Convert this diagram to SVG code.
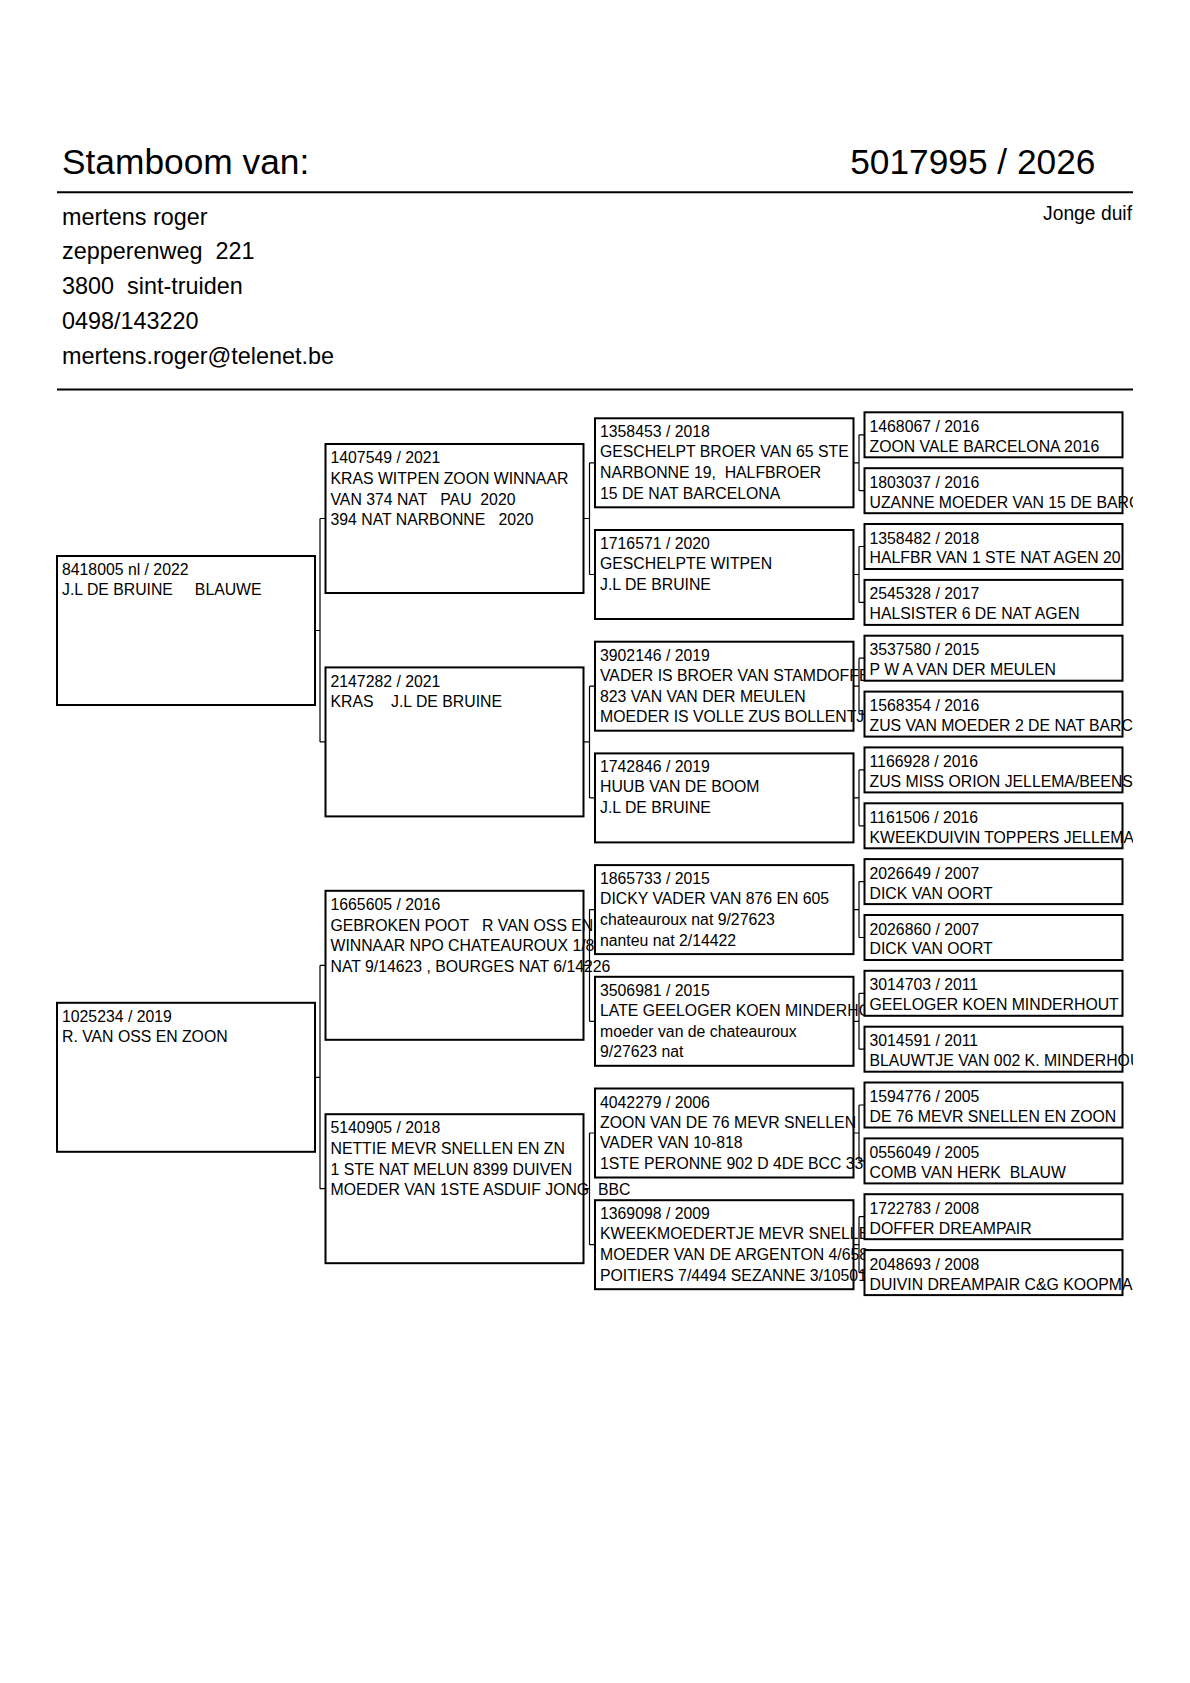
<svg xmlns="http://www.w3.org/2000/svg" width="1190" height="1683" viewBox="0 0 1190 1683" xml:space="preserve">
<style>
.bg{fill:#fff}
.box{fill:#fff;stroke:#000;stroke-width:2}
.c{fill:none;stroke:#000;stroke-width:1.2}
.rule{stroke:#000;stroke-width:2}
text{font-family:"Liberation Sans",Arial,Helvetica,sans-serif;fill:#000;white-space:pre}
.t{font-size:15.8px}
.h1{font-size:35.3px}
.h2{font-size:23.4px}
.h3{font-size:19.3px}
</style>
<defs>
<clipPath id="clipR"><rect x="0" y="0" width="1133" height="1683"/></clipPath>
</defs>
<rect class="bg" x="0" y="0" width="1190" height="1683"/>

<g id="header">
<text class="h1" x="62" y="173.5">Stamboom van:</text>
<text class="h1" x="1095.5" y="174" text-anchor="end">5017995 / 2026</text>
<line class="rule" x1="57" y1="192.3" x2="1133" y2="192.3"/>
<text class="h3" x="1132" y="220" text-anchor="end">Jonge duif</text>
<text class="h2" x="62" y="224.5">mertens roger</text>
<text class="h2" x="62" y="259.4">zepperenweg  221</text>
<text class="h2" x="62" y="294.3">3800  sint-truiden</text>
<text class="h2" x="62" y="329.2">0498/143220</text>
<text class="h2" x="62" y="364.1">mertens.roger@telenet.be</text>
<line class="rule" x1="57" y1="389.5" x2="1133" y2="389.5"/>
</g>

<g id="connectors">
<path class="c" d="M315 630.5H320M320 518.5V741.9M320 518.5H325.5M320 741.9H325.5"/>
<path class="c" d="M315 1077.3H320M320 965.3V1188.7M320 965.3H325.5M320 1188.7H325.5"/>
<path class="c" d="M583.5 518.5H589.5M589.5 462.8V574.5M589.5 462.8H595M589.5 574.5H595"/>
<path class="c" d="M583.5 741.9H589.5M589.5 686.2V797.9M589.5 686.2H595M589.5 797.9H595"/>
<path class="c" d="M583.5 965.3H589.5M589.5 909.6V1021.3M589.5 909.6H595M589.5 1021.3H595"/>
<path class="c" d="M583.5 1188.7H589.5M589.5 1133V1244.7M589.5 1133H595M589.5 1244.7H595"/>
<path class="c" d="M853.5 462.8H859M859 434.8V490.7M859 434.8H864.5M859 490.7H864.5"/>
<path class="c" d="M853.5 574.5H859M859 546.5V602.4M859 546.5H864.5M859 602.4H864.5"/>
<path class="c" d="M853.5 686.2H859M859 658.2V714.1M859 658.2H864.5M859 714.1H864.5"/>
<path class="c" d="M853.5 797.9H859M859 769.9V825.8M859 769.9H864.5M859 825.8H864.5"/>
<path class="c" d="M853.5 909.6H859M859 881.6V937.5M859 881.6H864.5M859 937.5H864.5"/>
<path class="c" d="M853.5 1021.3H859M859 993.3V1049.2M859 993.3H864.5M859 1049.2H864.5"/>
<path class="c" d="M853.5 1133H859M859 1105V1160.9M859 1105H864.5M859 1160.9H864.5"/>
<path class="c" d="M853.5 1244.7H859M859 1216.7V1272.6M859 1216.7H864.5M859 1272.6H864.5"/>
</g>

<!-- generation 1 -->
<g id="n1a">
<rect class="box" x="57" y="556" width="258" height="149"/>
<text class="t" x="62" y="575">8418005 nl / 2022</text>
<text class="t" x="62" y="595">J.L DE BRUINE     BLAUWE</text>
</g>
<g id="n1b">
<rect class="box" x="57" y="1002.8" width="258" height="149"/>
<text class="t" x="62" y="1021.8">1025234 / 2019</text>
<text class="t" x="62" y="1041.8">R. VAN OSS EN ZOON</text>
</g>

<!-- generation 2 -->
<g id="n2a">
<rect class="box" x="325.5" y="444" width="258" height="149"/>
<text class="t" x="330.5" y="463.2">1407549 / 2021</text>
<text class="t" x="330.5" y="483.8">KRAS WITPEN ZOON WINNAAR</text>
<text class="t" x="330.5" y="504.5">VAN 374 NAT   PAU  2020</text>
<text class="t" x="330.5" y="525.1">394 NAT NARBONNE   2020</text>
</g>
<g id="n2b">
<rect class="box" x="325.5" y="667.4" width="258" height="149"/>
<text class="t" x="330.5" y="686.6">2147282 / 2021</text>
<text class="t" x="330.5" y="707.2">KRAS    J.L DE BRUINE</text>
</g>
<g id="n2c">
<rect class="box" x="325.5" y="890.8" width="258" height="149"/>
<text class="t" x="330.5" y="910">1665605 / 2016</text>
<text class="t" x="330.5" y="930.6">GEBROKEN POOT   R VAN OSS EN</text>
<text class="t" x="330.5" y="951.3">WINNAAR NPO CHATEAUROUX 1/8</text>
<text class="t" x="330.5" y="971.9">NAT 9/14623 , BOURGES NAT 6/14226</text>
</g>
<g id="n2d">
<rect class="box" x="325.5" y="1114.2" width="258" height="149"/>
<text class="t" x="330.5" y="1133.4">5140905 / 2018</text>
<text class="t" x="330.5" y="1154">NETTIE MEVR SNELLEN EN ZN</text>
<text class="t" x="330.5" y="1174.7">1 STE NAT MELUN 8399 DUIVEN</text>
<text class="t" x="330.5" y="1195.3">MOEDER VAN 1STE ASDUIF JONG  BBC</text>
</g>

<!-- generation 3 -->
<g id="n3a">
<rect class="box" x="595" y="418.3" width="258.5" height="89"/>
<text class="t" x="600" y="437.3">1358453 / 2018</text>
<text class="t" x="600" y="457.3">GESCHELPT BROER VAN 65 STE</text>
<text class="t" x="600" y="478.1">NARBONNE 19,  HALFBROER</text>
<text class="t" x="600" y="498.8">15 DE NAT BARCELONA</text>
</g>
<g id="n3b">
<rect class="box" x="595" y="530" width="258.5" height="89"/>
<text class="t" x="600" y="549">1716571 / 2020</text>
<text class="t" x="600" y="569">GESCHELPTE WITPEN</text>
<text class="t" x="600" y="589.8">J.L DE BRUINE</text>
</g>
<g id="n3c">
<rect class="box" x="595" y="641.7" width="258.5" height="89"/>
<text class="t" x="600" y="660.7">3902146 / 2019</text>
<text class="t" x="600" y="680.7">VADER IS BROER VAN STAMDOFFER</text>
<text class="t" x="600" y="701.5">823 VAN VAN DER MEULEN</text>
<text class="t" x="600" y="722.2">MOEDER IS VOLLE ZUS BOLLENTJE</text>
</g>
<g id="n3d">
<rect class="box" x="595" y="753.4" width="258.5" height="89"/>
<text class="t" x="600" y="772.4">1742846 / 2019</text>
<text class="t" x="600" y="792.4">HUUB VAN DE BOOM</text>
<text class="t" x="600" y="813.2">J.L DE BRUINE</text>
</g>
<g id="n3e">
<rect class="box" x="595" y="865.1" width="258.5" height="89"/>
<text class="t" x="600" y="884.1">1865733 / 2015</text>
<text class="t" x="600" y="904.1">DICKY VADER VAN 876 EN 605</text>
<text class="t" x="600" y="924.9">chateauroux nat 9/27623</text>
<text class="t" x="600" y="945.6">nanteu nat 2/14422</text>
</g>
<g id="n3f">
<rect class="box" x="595" y="976.8" width="258.5" height="89"/>
<text class="t" x="600" y="995.8">3506981 / 2015</text>
<text class="t" x="600" y="1015.6">LATE GEELOGER KOEN MINDERHOUT</text>
<text class="t" x="600" y="1036.6">moeder van de chateauroux</text>
<text class="t" x="600" y="1057.3">9/27623 nat</text>
</g>
<g id="n3g">
<rect class="box" x="595" y="1088.5" width="258.5" height="89"/>
<text class="t" x="600" y="1107.5">4042279 / 2006</text>
<text class="t" x="600" y="1127.5">ZOON VAN DE 76 MEVR SNELLEN</text>
<text class="t" x="600" y="1148.3">VADER VAN 10-818</text>
<text class="t" x="600" y="1169">1STE PERONNE 902 D 4DE BCC 33</text>
</g>
<g id="n3h">
<rect class="box" x="595" y="1200.2" width="258.5" height="89"/>
<text class="t" x="600" y="1219.2">1369098 / 2009</text>
<text class="t" x="600" y="1238.9">KWEEKMOEDERTJE MEVR SNELLEN</text>
<text class="t" x="600" y="1260">MOEDER VAN DE ARGENTON 4/658</text>
<text class="t" x="600" y="1280.7">POITIERS 7/4494 SEZANNE 3/10501</text>
</g>

<!-- generation 4 -->
<g clip-path="url(#clipR)">
<g id="n4a"><rect class="box" x="864.5" y="412.3" width="258" height="45"/>
<text class="t" x="869.5" y="431.8">1468067 / 2016</text><text class="t" x="869.5" y="451.7">ZOON VALE BARCELONA 2016</text></g>
<g id="n4b"><rect class="box" x="864.5" y="468.2" width="258" height="45"/>
<text class="t" x="869.5" y="487.7">1803037 / 2016</text><text class="t" x="869.5" y="507.6">UZANNE MOEDER VAN 15 DE BARCELONA</text></g>
<g id="n4c"><rect class="box" x="864.5" y="524" width="258" height="45"/>
<text class="t" x="869.5" y="543.5">1358482 / 2018</text><text class="t" x="869.5" y="563.4">HALFBR VAN 1 STE NAT AGEN 20</text></g>
<g id="n4d"><rect class="box" x="864.5" y="579.9" width="258" height="45"/>
<text class="t" x="869.5" y="599.4">2545328 / 2017</text><text class="t" x="869.5" y="619.3">HALSISTER 6 DE NAT AGEN</text></g>
<g id="n4e"><rect class="box" x="864.5" y="635.7" width="258" height="45"/>
<text class="t" x="869.5" y="655.2">3537580 / 2015</text><text class="t" x="869.5" y="675.1">P W A VAN DER MEULEN</text></g>
<g id="n4f"><rect class="box" x="864.5" y="691.6" width="258" height="45"/>
<text class="t" x="869.5" y="711.1">1568354 / 2016</text><text class="t" x="869.5" y="731">ZUS VAN MOEDER 2 DE NAT BARCELONA</text></g>
<g id="n4g"><rect class="box" x="864.5" y="747.4" width="258" height="45"/>
<text class="t" x="869.5" y="766.9">1166928 / 2016</text><text class="t" x="869.5" y="786.8">ZUS MISS ORION JELLEMA/BEENS</text></g>
<g id="n4h"><rect class="box" x="864.5" y="803.3" width="258" height="45"/>
<text class="t" x="869.5" y="822.8">1161506 / 2016</text><text class="t" x="869.5" y="842.7">KWEEKDUIVIN TOPPERS JELLEMA</text></g>
<g id="n4i"><rect class="box" x="864.5" y="859.1" width="258" height="45"/>
<text class="t" x="869.5" y="878.6">2026649 / 2007</text><text class="t" x="869.5" y="898.5">DICK VAN OORT</text></g>
<g id="n4j"><rect class="box" x="864.5" y="915" width="258" height="45"/>
<text class="t" x="869.5" y="934.5">2026860 / 2007</text><text class="t" x="869.5" y="954.4">DICK VAN OORT</text></g>
<g id="n4k"><rect class="box" x="864.5" y="970.8" width="258" height="45"/>
<text class="t" x="869.5" y="990.3">3014703 / 2011</text><text class="t" x="869.5" y="1010.2">GEELOGER KOEN MINDERHOUT</text></g>
<g id="n4l"><rect class="box" x="864.5" y="1026.7" width="258" height="45"/>
<text class="t" x="869.5" y="1046.2">3014591 / 2011</text><text class="t" x="869.5" y="1066.1">BLAUWTJE VAN 002 K. MINDERHOUT</text></g>
<g id="n4m"><rect class="box" x="864.5" y="1082.5" width="258" height="45"/>
<text class="t" x="869.5" y="1102">1594776 / 2005</text><text class="t" x="869.5" y="1121.9">DE 76 MEVR SNELLEN EN ZOON</text></g>
<g id="n4n"><rect class="box" x="864.5" y="1138.4" width="258" height="45"/>
<text class="t" x="869.5" y="1157.9">0556049 / 2005</text><text class="t" x="869.5" y="1177.8">COMB VAN HERK  BLAUW</text></g>
<g id="n4o"><rect class="box" x="864.5" y="1194.2" width="258" height="45"/>
<text class="t" x="869.5" y="1213.7">1722783 / 2008</text><text class="t" x="869.5" y="1233.6">DOFFER DREAMPAIR</text></g>
<g id="n4p"><rect class="box" x="864.5" y="1250.1" width="258" height="45"/>
<text class="t" x="869.5" y="1269.6">2048693 / 2008</text><text class="t" x="869.5" y="1289.5">DUIVIN DREAMPAIR C&amp;G KOOPMAN</text></g>
</g>
</svg>
